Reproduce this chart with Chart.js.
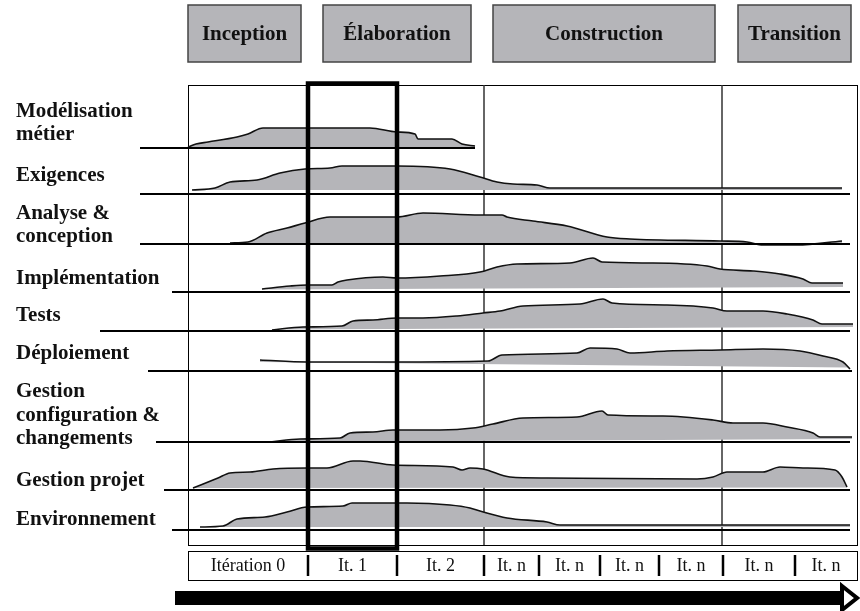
<!DOCTYPE html>
<html>
<head>
<meta charset="utf-8">
<script src="https://cdn.jsdelivr.net/npm/chart.js@4/dist/chart.umd.min.js"></script>
<style>
  html, body { margin: 0; padding: 0; background: #fff; }
  canvas { display: block; }
</style>
</head>
<body>
<canvas id="rup" width="860" height="611"></canvas>
<script>
// time axis in weeks (0 = start of project), effort in arbitrary units
var projectEnd = 66.9;
var boxTop = 46;

var phases = ['Inception', 'Élaboration', 'Construction', 'Transition'];
var phaseStart = [0, 13.5, 30.5, 55.0];
var phaseEnd = [11.3, 28.3, 52.7, 66.3];
var phaseLines = [29.6, 53.4];

var iterations = ['Itération 0', 'It. 1', 'It. 2', 'It. n', 'It. n', 'It. n', 'It. n', 'It. n', 'It. n'];
var iterationEnds = [12.0, 20.9, 29.6, 35.1, 41.2, 47.1, 53.5, 60.7, 66.9];
var focusIteration = 1;

var disciplineLabels = [
    ['Modélisation', 'métier'],
    ['Exigences'],
    ['Analyse &', 'conception'],
    ['Implémentation'],
    ['Tests'],
    ['Déploiement'],
    ['Gestion', 'configuration &', 'changements'],
    ['Gestion projet'],
    ['Environnement']
];
var rowLevels = [39.7, 35.1, 30.1, 25.3, 21.4, 17.4, 10.3, 5.5, 1.5];
var rowLineStart = [-4.8, -4.8, -4.8, -1.6, -8.8, -4.0, -3.2, -2.4, -1.6];
var rowLineEnd = [28.7, 66.2, 66.2, 66.2, 66.2, 66.4, 66.2, 66.2, 66.2];
var labelLevels = [41.0, 36.9, 30.8, 26.6, 22.9, 19.1, 10.6, 6.4, 2.5];
var humpBaseStart = [0, 0.4, 0, 0.25, 0.15, 0.9, 0, 0.2, 0.3];
var humpBaseEnd = [0, 0.4, 0.1, 0.5, 0.4, 0.35, 0.3, 0.25, 0.3];

var weeksModelisation = [0.0, 0.8, 2.0, 4.9, 6.0, 7.5, 11.9, 18.2, 20.9, 22.7, 23.0, 26.4, 27.4, 28.7];
var effortModelisation = [0.1, 0.4, 0.6, 1.1, 1.4, 2.0, 2.0, 2.0, 1.6, 1.4, 0.9, 0.9, 0.4, 0.2];

var weeksExigences = [0.4, 2.7, 4.2, 6.9, 9.2, 11.7, 14.2, 15.4, 20.9, 26.2, 29.2, 30.9, 32.5, 34.9, 36.2, 65.4];
var effortExigences = [0.4, 0.6, 1.2, 1.4, 2.1, 2.5, 2.6, 2.8, 2.8, 2.5, 1.7, 1.2, 1.0, 0.9, 0.6, 0.6];

var weeksAnalyse = [4.2, 6.0, 7.9, 9.9, 11.7, 14.2, 20.9, 23.5, 29.2, 31.4, 31.9, 34.5, 37.9, 41.9, 44.2, 53.2, 55.9, 57.5, 60.9, 65.4];
var effortAnalyse = [0.1, 0.2, 1.1, 1.6, 2.1, 2.7, 2.7, 3.1, 2.9, 2.9, 2.7, 2.3, 1.8, 0.7, 0.5, 0.3, 0.2, -0.1, -0.1, 0.3];

var weeksImplementation = [7.4, 10.2, 11.9, 14.4, 15.0, 15.9, 19.5, 20.9, 25.2, 29.2, 30.9, 32.9, 38.2, 40.5, 41.4, 46.5, 51.9, 53.2, 56.5, 59.2, 61.5, 62.4, 65.5];
var effortImplementation = [0.3, 0.6, 0.7, 0.7, 1.0, 1.2, 1.5, 1.4, 1.6, 2.0, 2.5, 2.8, 2.9, 3.4, 3.0, 2.9, 2.6, 2.3, 2.1, 1.8, 1.3, 0.9, 0.9];

var weeksTests = [8.4, 11.5, 15.4, 16.5, 18.5, 20.9, 23.5, 26.9, 29.5, 31.2, 33.5, 39.2, 41.5, 42.4, 47.9, 52.5, 53.9, 57.5, 59.9, 62.5, 63.4, 66.5];
var effortTests = [0.1, 0.4, 0.5, 1.0, 1.1, 1.3, 1.3, 1.5, 1.8, 2.0, 2.5, 2.7, 3.2, 2.8, 2.6, 2.3, 2.0, 2.0, 1.7, 1.1, 0.7, 0.7];

var weeksDeploiement = [7.2, 11.9, 20.2, 30.0, 31.4, 38.9, 40.2, 42.9, 44.2, 47.9, 53.2, 57.5, 61.2, 63.5, 65.5, 66.2];
var effortDeploiement = [1.1, 0.9, 0.9, 1.0, 1.6, 1.8, 2.3, 2.2, 1.8, 2.0, 2.1, 2.2, 2.0, 1.5, 0.9, 0.2];

var weeksConfiguration = [8.2, 11.2, 15.2, 16.2, 18.5, 20.5, 25.2, 28.5, 30.5, 33.5, 38.9, 41.4, 42.0, 47.5, 52.5, 54.5, 57.5, 59.9, 62.5, 63.2, 66.4];
var effortConfiguration = [0, 0.3, 0.4, 0.9, 1.0, 1.2, 1.2, 1.4, 1.8, 2.4, 2.5, 3.1, 2.7, 2.6, 2.2, 1.9, 1.9, 1.5, 0.9, 0.5, 0.5];

var weeksProjet = [0.5, 3.0, 4.2, 6.2, 8.5, 11.9, 13.9, 16.5, 17.2, 20.5, 26.5, 27.4, 28.2, 29.5, 32.2, 35.9, 50.9, 52.5, 53.9, 57.5, 59.2, 61.5, 64.7, 65.4, 65.9];
var effortProjet = [0.2, 1.2, 1.7, 1.8, 2.1, 2.2, 2.2, 2.9, 2.9, 2.5, 2.3, 2.0, 2.2, 2.1, 1.3, 1.2, 1.1, 1.3, 1.8, 1.8, 2.3, 2.2, 2.0, 1.3, 0.3];

var weeksEnvironnement = [1.2, 3.5, 4.9, 7.7, 9.9, 11.9, 15.5, 16.4, 21.9, 26.2, 28.2, 29.2, 31.9, 35.9, 37.2, 66.2];
var effortEnvironnement = [0.3, 0.4, 1.1, 1.3, 1.8, 2.3, 2.4, 2.7, 2.7, 2.5, 2.2, 1.9, 1.2, 0.8, 0.5, 0.5];

var humpWeeks = [weeksModelisation, weeksExigences, weeksAnalyse, weeksImplementation, weeksTests,
    weeksDeploiement, weeksConfiguration, weeksProjet, weeksEnvironnement];
var humpEffort = [effortModelisation, effortExigences, effortAnalyse, effortImplementation, effortTests,
    effortDeploiement, effortConfiguration, effortProjet, effortEnvironnement];

var GRAY = '#b5b5b9';
var SERIF = '"Liberation Serif", "Times New Roman", serif';

function buildDatasets(){
    var datasets = [];
    for(var i = 0; i < rowLevels.length; i++){
        var level = rowLevels[i];
        var weeks = humpWeeks[i];
        var effort = humpEffort[i];
        var baseIndex = datasets.length + 1;
        datasets.push({
            data: weeks.map(function(w, k){ return {x: w, y: level + effort[k]}; }),
            borderColor: '#111',
            borderWidth: 1.6,
            backgroundColor: GRAY,
            fill: baseIndex,
            cubicInterpolationMode: 'monotone',
            pointRadius: 0,
            order: 1
        });
        // bottom edge of the grey area
        datasets.push({
            data: [
                {x: weeks[0], y: level + humpBaseStart[i]},
                {x: weeks[weeks.length - 1], y: level + humpBaseEnd[i]}
            ],
            borderWidth: 0,
            borderColor: 'rgba(0,0,0,0)',
            pointRadius: 0,
            fill: false,
            order: 2
        });
        // discipline line
        datasets.push({
            data: [{x: rowLineStart[i], y: level}, {x: rowLineEnd[i], y: level}],
            borderColor: '#000',
            borderWidth: 2,
            pointRadius: 0,
            fill: false,
            order: 0
        });
    }
    return datasets;
}

var rupPlugin = {
    id: 'rup',
    beforeDatasetsDraw: function(chart){
        var ctx = chart.ctx;
        var x = chart.scales.x, y = chart.scales.y;
        var left = x.getPixelForValue(0), right = x.getPixelForValue(projectEnd);
        var top = y.getPixelForValue(boxTop), bottom = y.getPixelForValue(0);
        ctx.save();
        ctx.strokeStyle = '#000';
        ctx.lineWidth = 1;
        ctx.strokeRect(Math.round(left) + 0.5, Math.round(top) + 0.5, Math.round(right - left), Math.round(bottom - top));
        ctx.strokeStyle = '#333';
        ctx.lineWidth = 1.5;
        phaseLines.forEach(function(w){
            var px = x.getPixelForValue(w);
            ctx.beginPath();
            ctx.moveTo(px, top);
            ctx.lineTo(px, bottom);
            ctx.stroke();
        });
        ctx.restore();
    },
    afterDatasetsDraw: function(chart){
        var ctx = chart.ctx;
        var x = chart.scales.x, y = chart.scales.y;
        ctx.save();

        // phase boxes
        var pTop = y.getPixelForValue(54.0), pBottom = y.getPixelForValue(48.3);
        ctx.font = 'bold 21px ' + SERIF;
        ctx.textAlign = 'center';
        ctx.textBaseline = 'middle';
        for(var i = 0; i < phases.length; i++){
            var l = x.getPixelForValue(phaseStart[i]), r = x.getPixelForValue(phaseEnd[i]);
            ctx.fillStyle = GRAY;
            ctx.fillRect(l, pTop, r - l, pBottom - pTop);
            ctx.strokeStyle = '#444';
            ctx.lineWidth = 1.5;
            ctx.strokeRect(l, pTop, r - l, pBottom - pTop);
            ctx.fillStyle = '#111';
            ctx.fillText(phases[i], (l + r) / 2, (pTop + pBottom) / 2 + 1);
        }

        // discipline labels
        ctx.textAlign = 'left';
        ctx.fillStyle = '#111';
        var labelX = x.getPixelForValue(-17.2);
        for(var d = 0; d < disciplineLabels.length; d++){
            var lines = disciplineLabels[d];
            for(var k = 0; k < lines.length; k++){
                var lv = labelLevels[d] + (lines.length - 1 - k) * 2.35;
                ctx.fillText(lines[k], labelX, y.getPixelForValue(lv));
            }
        }

        // focus iteration frame
        var fl = x.getPixelForValue(iterationEnds[focusIteration - 1]);
        var fr = x.getPixelForValue(iterationEnds[focusIteration]);
        var ft = y.getPixelForValue(boxTop + 0.15), fb = y.getPixelForValue(-0.35);
        ctx.strokeStyle = '#000';
        ctx.lineWidth = 4.5;
        ctx.strokeRect(fl, ft, fr - fl, fb - ft);

        // iteration row
        var rTop = y.getPixelForValue(-0.6), rBottom = y.getPixelForValue(-3.5);
        var rLeft = x.getPixelForValue(0), rRight = x.getPixelForValue(projectEnd);
        ctx.lineWidth = 1;
        ctx.strokeRect(Math.round(rLeft) + 0.5, Math.round(rTop) + 0.5, Math.round(rRight - rLeft), Math.round(rBottom - rTop));
        ctx.font = '18px ' + SERIF;
        ctx.textAlign = 'center';
        var prev = 0;
        for(var j = 0; j < iterations.length; j++){
            var a = x.getPixelForValue(prev), b = x.getPixelForValue(iterationEnds[j]);
            ctx.fillStyle = '#111';
            ctx.fillText(iterations[j], (a + b) / 2, (rTop + rBottom) / 2 + 1);
            if(j < iterations.length - 1){
                ctx.lineWidth = 2.5;
                ctx.beginPath();
                ctx.moveTo(b, rTop + 4);
                ctx.lineTo(b, rBottom - 4);
                ctx.stroke();
            }
            prev = iterationEnds[j];
        }

        // time arrow
        var ay = y.getPixelForValue(-5.3);
        var aStart = x.getPixelForValue(-1.3), aEnd = x.getPixelForValue(65.4), tip = x.getPixelForValue(66.9);
        ctx.fillStyle = '#000';
        ctx.fillRect(aStart, ay - 7, aEnd - aStart, 14);
        ctx.beginPath();
        ctx.moveTo(aEnd, ay - 12);
        ctx.lineTo(tip, ay);
        ctx.lineTo(aEnd, ay + 12);
        ctx.closePath();
        ctx.fillStyle = '#fff';
        ctx.fill();
        ctx.lineWidth = 4;
        ctx.lineJoin = 'miter';
        ctx.stroke();

        ctx.restore();
    }
};

var chart = new Chart(document.getElementById('rup').getContext('2d'), {
    type: 'line',
    data: { datasets: buildDatasets() },
    options: {
        responsive: false,
        devicePixelRatio: 1,
        animation: false,
        events: [],
        layout: { padding: 0 },
        plugins: {
            legend: { display: false },
            tooltip: { enabled: false },
            title: { display: false }
        },
        scales: {
            x: { type: 'linear', min: -18.8, max: 67.2, display: false },
            y: { type: 'linear', min: -6.6, max: 54.5, display: false }
        }
    },
    plugins: [rupPlugin]
});
</script>
</body>
</html>
